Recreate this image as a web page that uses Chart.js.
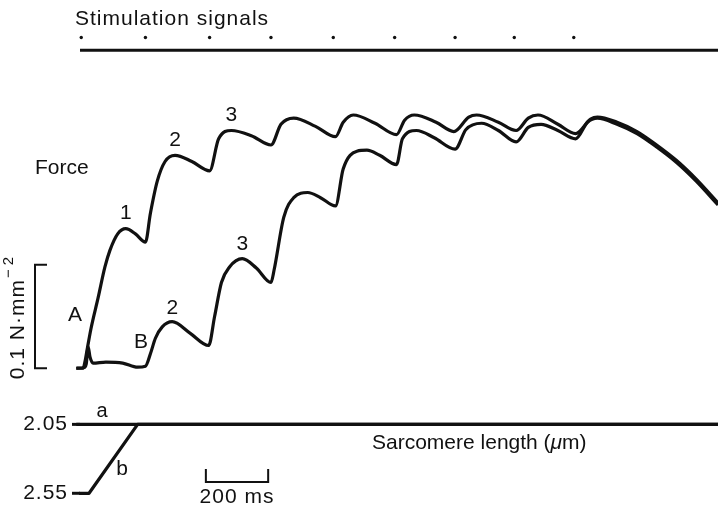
<!DOCTYPE html>
<html>
<head>
<meta charset="utf-8">
<script src="https://cdn.jsdelivr.net/npm/chart.js@4.4.1/dist/chart.umd.min.js"></script>
<style>
  html, body { margin: 0; padding: 0; background: #fff; }
  canvas { display: block; }
</style>
</head>
<body>
<canvas id="tetanus" width="722" height="513"></canvas>
<script>
"use strict";

/* --- DATA --- */

// stimulus pulses (ms)
const stimTimes = [0, 206, 412, 609, 809, 1006, 1200, 1390, 1581];

// force, trace A: [time ms, N/mm^2]
const forceA = [
  [-16, 0], [6, 0], [13, 0.008], [20, 0.020], [31, 0.038], [54, 0.068], [76, 0.098], [92, 0.114], [117, 0.130], [143, 0.135], [174, 0.130], [206, 0.122],
  [222, 0.150], [244, 0.181], [269, 0.200], [301, 0.206], [355, 0.200], [412, 0.191],
  [441, 0.222], [482, 0.230], [546, 0.225], [609, 0.216],
  [641, 0.236], [682, 0.242], [752, 0.234], [816, 0.224],
  [841, 0.238], [873, 0.245], [943, 0.237], [1012, 0.226],
  [1038, 0.240], [1069, 0.245], [1139, 0.238], [1196, 0.229],
  [1244, 0.243], [1269, 0.245], [1339, 0.238], [1396, 0.230],
  [1435, 0.242], [1466, 0.245], [1530, 0.236], [1587, 0.227],
  [1635, 0.241], [1657, 0.243], [1720, 0.238], [1784, 0.229], [1847, 0.216], [1911, 0.201], [1974, 0.183], [2044, 0.160]
];

// force, trace B
const forceB = [
  [-16, 0], [12, 0.001], [16, 0.004], [22, 0.021], [28, 0.011], [38, 0.005], [79, 0.006], [133, 0.005], [181, 0.001], [206, 0.002],
  [222, 0.014], [238, 0.029], [260, 0.040], [292, 0.045], [349, 0.034], [409, 0.022],
  [428, 0.050], [450, 0.083], [476, 0.098], [517, 0.106], [562, 0.097], [609, 0.083],
  [619, 0.095], [650, 0.146], [682, 0.165], [727, 0.170], [768, 0.165], [816, 0.157],
  [841, 0.193], [885, 0.210], [917, 0.211], [958, 0.206], [1012, 0.197],
  [1031, 0.222], [1076, 0.230], [1133, 0.223], [1200, 0.212],
  [1235, 0.231], [1285, 0.237], [1339, 0.230], [1396, 0.219],
  [1435, 0.233], [1476, 0.236], [1530, 0.230], [1587, 0.222],
  [1625, 0.238], [1657, 0.242], [1720, 0.236], [1784, 0.227], [1847, 0.214], [1911, 0.199], [1974, 0.181], [2044, 0.158]
];

// sarcomere length (um)
const lengthA = [[-16, 2.05], [2044, 2.05]];
const lengthB = [[-7, 2.55], [25, 2.55], [181, 2.05], [2044, 2.05]];
const lengthTicks = [2.05, 2.55];

// numbered twitches: [label, time ms]
const peaksA = [['1', 143], ['2', 301], ['3', 482]];
const peaksB = [['2', 292], ['3', 517]];

/* --- CHART --- */

const INK = '#111';
const FONT = '"Liberation Sans", Arial, sans-serif';

function pts(arr) {
  return arr.map(p => ({ x: p[0], y: p[1] }));
}

function traceAt(arr, t) {
  for (let i = 1; i < arr.length; i++) {
    if (arr[i][0] >= t) {
      const [x0, y0] = arr[i - 1], [x1, y1] = arr[i];
      return y0 + (y1 - y0) * (t - x0) / (x1 - x0);
    }
  }
  return arr[arr.length - 1][1];
}

function traceSet(arr, axis, smooth) {
  return {
    type: 'line',
    data: pts(arr),
    yAxisID: axis,
    borderColor: INK,
    borderWidth: 3.2,
    pointRadius: 0,
    cubicInterpolationMode: smooth ? 'monotone' : 'default',
    tension: 0,
    borderJoinStyle: 'round',
    fill: false
  };
}

function text(ctx, str, x, y, size, align, spacing) {
  ctx.font = size + 'px ' + FONT;
  ctx.letterSpacing = (spacing || 0) + 'px';
  ctx.textAlign = align || 'center';
  ctx.textBaseline = 'middle';
  ctx.fillText(str, x, y);
  ctx.letterSpacing = '0px';
}

const labels = {
  id: 'labels',
  afterDatasetsDraw(chart) {
    const ctx = chart.ctx;
    const xs = chart.scales.x, yf = chart.scales.y, yl = chart.scales.yLen;
    ctx.save();
    ctx.fillStyle = INK;
    ctx.strokeStyle = INK;

    text(ctx, 'Stimulation signals', 75, 19, 21, 'left', 1);
    text(ctx, 'Force', 35, 168, 21, 'left');

    // twitch numbers
    peaksA.forEach(([s, t]) => text(ctx, s, xs.getPixelForValue(t), yf.getPixelForValue(traceAt(forceA, t)) - 15, 21));
    peaksB.forEach(([s, t]) => text(ctx, s, xs.getPixelForValue(t), yf.getPixelForValue(traceAt(forceB, t)) - 14, 21));
    text(ctx, 'A', 75, 315, 21);
    text(ctx, 'B', 141, 342, 21);

    // force calibration bar
    const f0 = yf.getPixelForValue(0), f1 = yf.getPixelForValue(0.1);
    ctx.lineWidth = 2;
    ctx.beginPath();
    ctx.moveTo(47, f1); ctx.lineTo(35, f1); ctx.lineTo(35, f0); ctx.lineTo(47, f0);
    ctx.stroke();
    ctx.save();
    ctx.translate(18, (f0 + f1) / 2 + 6);
    ctx.rotate(-Math.PI / 2);
    ctx.font = '21px ' + FONT;
    const main = '0.1 N\u00b7mm';
    const w1 = ctx.measureText(main).width;
    ctx.font = '15px ' + FONT;
    const w2 = ctx.measureText('\u2212 2').width;
    const x0 = -(w1 + w2) / 2;
    text(ctx, main, x0, 0, 21, 'left', 1);
    text(ctx, '\u2212 2', x0 + w1 + 9, -9, 15, 'left');
    ctx.restore();

    // sarcomere length ticks
    lengthTicks.forEach(v => {
      const y = yl.getPixelForValue(v);
      text(ctx, v.toFixed(2), 68, y, 21, 'right', 1);
      ctx.lineWidth = 3;
      ctx.beginPath(); ctx.moveTo(72, y); ctx.lineTo(80, y); ctx.stroke();
    });
    text(ctx, 'a', 102, 411, 20);
    text(ctx, 'b', 122, 469, 21);

    const head = 'Sarcomere length (';
    text(ctx, head, 372, 443, 21, 'left');
    ctx.font = '21px ' + FONT;
    let sx = 372 + ctx.measureText(head).width;
    ctx.font = 'italic 21px ' + FONT;
    ctx.textAlign = 'left';
    ctx.fillText('\u03bc', sx, 443);
    sx += ctx.measureText('\u03bc').width;
    text(ctx, 'm)', sx, 443, 21, 'left');

    // time calibration bar
    const t0 = xs.getPixelForValue(400), t1 = xs.getPixelForValue(600);
    ctx.lineWidth = 2;
    ctx.beginPath();
    ctx.moveTo(t0, 469); ctx.lineTo(t0, 482); ctx.lineTo(t1, 482); ctx.lineTo(t1, 469);
    ctx.stroke();
    text(ctx, '200 ms', (t0 + t1) / 2, 497, 21, 'center', 1);

    ctx.restore();
  }
};

new Chart(document.getElementById('tetanus'), {
  data: {
    datasets: [
      traceSet(forceA, 'y', true),
      traceSet(forceB, 'y', true),
      traceSet(lengthA, 'yLen', false),
      traceSet(lengthB, 'yLen', false),
      {
        type: 'line',
        data: [{ x: -4, y: 0 }, { x: 2044, y: 0 }],
        yAxisID: 'yStim',
        borderColor: INK,
        borderWidth: 3,
        pointRadius: 0
      },
      {
        type: 'scatter',
        data: stimTimes.map(t => ({ x: t, y: 1 })),
        yAxisID: 'yStim',
        pointRadius: 1.7,
        pointBackgroundColor: INK,
        pointBorderWidth: 0,
        showLine: false
      }
    ]
  },
  options: {
    responsive: false,
    animation: false,
    layout: { padding: 0 },
    plugins: {
      legend: { display: false },
      tooltip: { enabled: false }
    },
    scales: {
      x: { type: 'linear', min: -248, max: 2044, display: false },
      y: { type: 'linear', min: -0.1362, max: 0.3524, display: false },
      yLen: { type: 'linear', min: -1.0, max: 2.664, reverse: true, display: false },
      yStim: { type: 'linear', min: -35.85, max: 3.615, display: false }
    }
  },
  plugins: [labels]
});
</script>
</body>
</html>
